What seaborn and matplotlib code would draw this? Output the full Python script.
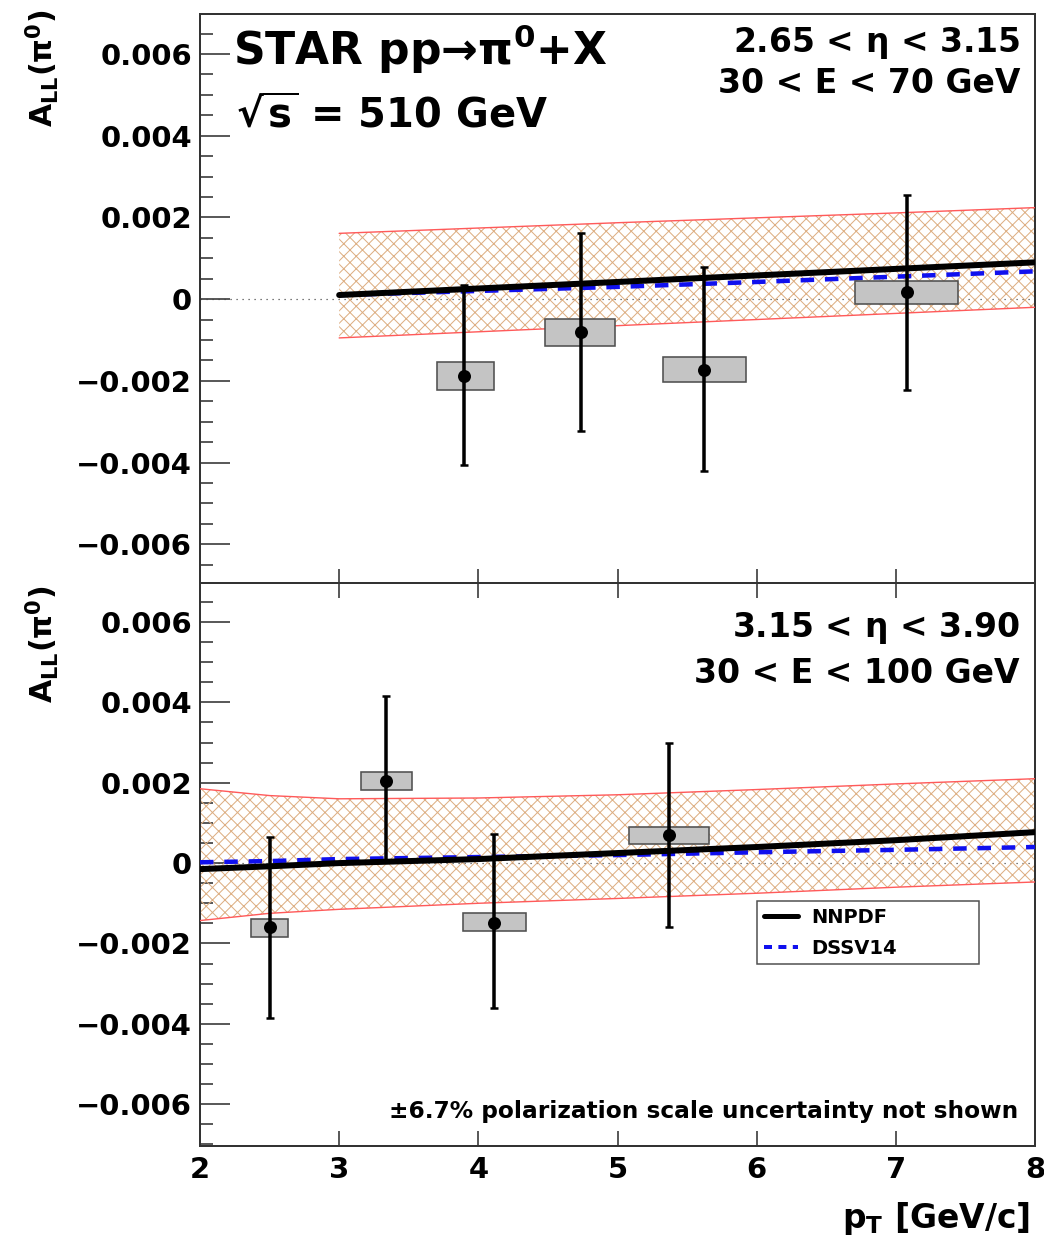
import numpy as np
import pandas as pd
import matplotlib
matplotlib.use("Agg")
import matplotlib.pyplot as plt
import seaborn as sns
from matplotlib.patches import Rectangle
from matplotlib.lines import Line2D
from matplotlib.ticker import MultipleLocator, FuncFormatter

# ---------------- data ----------------
# top panel: 2.65 < eta < 3.15
pt_top = [3.90, 4.735, 5.62, 7.08]
all_top = [-0.00188, -0.00080, -0.00173, 0.00017]
stat_hi_top = [0.00034, 0.00163, 0.00078, 0.00256]
stat_lo_top = [-0.00407, -0.00322, -0.00422, -0.00222]
box_xlo_top = [3.70, 4.48, 5.33, 6.71]
box_xhi_top = [4.11, 4.98, 5.92, 7.45]
box_ylo_top = [-0.00222, -0.00115, -0.00202, -0.00012]
box_yhi_top = [-0.00154, -0.00049, -0.00141, 0.00044]

theory_pt_top = [3, 4, 5, 6, 7, 8]
nnpdf_top = [0.00010, 0.00026, 0.00042, 0.00058, 0.00074, 0.00090]
dssv_top = [0.00010, 0.00020, 0.00030, 0.00042, 0.00055, 0.00068]
band_hi_top = [0.00161, 0.00174, 0.00187, 0.00199, 0.00211, 0.00224]
band_lo_top = [-0.00095, -0.00080, -0.00065, -0.00050, -0.00035, -0.00020]

# bottom panel: 3.15 < eta < 3.90
pt_bot = [2.50, 3.34, 4.11, 5.37]
all_bot = [-0.00160, 0.00205, -0.00148, 0.00070]
stat_hi_bot = [0.00065, 0.00415, 0.00072, 0.00300]
stat_lo_bot = [-0.00385, 0.00005, -0.00360, -0.00160]
box_xlo_bot = [2.37, 3.16, 3.89, 5.08]
box_xhi_bot = [2.63, 3.52, 4.34, 5.66]
box_ylo_bot = [-0.00183, 0.00183, -0.00170, 0.00048]
box_yhi_bot = [-0.00140, 0.00227, -0.00125, 0.00090]

theory_pt_bot = [2, 2.5, 3, 4, 5, 6, 7, 8]
nnpdf_bot = [-0.00015, -0.00008, 0.00000, 0.00010, 0.00025, 0.00040, 0.00057, 0.00077]
dssv_bot = [0.00002, 0.00005, 0.00010, 0.00015, 0.00020, 0.00027, 0.00033, 0.00040]
band_hi_bot = [0.00185, 0.00168, 0.00160, 0.00162, 0.00170, 0.00183, 0.00197, 0.00210]
band_lo_bot = [-0.00143, -0.00125, -0.00115, -0.00100, -0.00088, -0.00075, -0.00060, -0.00047]

x_ticks = [2, 3, 4, 5, 6, 7, 8]
model_names = ["NNPDF", "DSSV14"]

# ---------------- style ----------------
W, H, DPI = 1044, 1243, 75


def P(px):
    return px * 72.0 / DPI


sns.set_theme(style="ticks")
plt.rcParams.update({
    "font.family": ["DejaVu Sans"],
    "font.weight": "bold",
    "mathtext.fontset": "dejavusans",
    "mathtext.default": "bf",
    "hatch.linewidth": P(1.0),
    "axes.unicode_minus": True,
    "text.color": "black",
    "axes.labelcolor": "black",
    "xtick.color": "black",
    "ytick.color": "black",
})

HATCH_COL = "#DDAE82"
EDGE_RED = "#FF5A5A"

fig = plt.figure(figsize=(W / DPI, H / DPI), dpi=DPI)
fig.patch.set_facecolor("white")
ax_top = fig.add_axes([200 / W, 1 - 583 / H, 835 / W, (583 - 14) / H])
ax_bot = fig.add_axes([200 / W, 1 - 1146 / H, 835 / W, (1146 - 583) / H], sharex=ax_top)


def fmt(v, pos):
    if abs(v) < 1e-12:
        return "0"
    s = f"{abs(v):.3f}"
    return ("\u2212" + s) if v < 0 else s


def draw_panel(ax, tpt, nn, ds, bhi, blo, pt, a, shi, slo, bxlo, bxhi, bylo, byhi):
    ax.set_facecolor("white")
    # zero line
    ax.axhline(0, color="#444444", lw=P(1.2), ls=(0, (1, 4)), zorder=1)
    # theory band
    ax.fill_between(tpt, blo, bhi, facecolor="none", edgecolor=HATCH_COL,
                    hatch="xx", linewidth=0, zorder=2)
    ax.plot(tpt, bhi, color=EDGE_RED, lw=P(1.4), zorder=3)
    ax.plot(tpt, blo, color=EDGE_RED, lw=P(1.4), zorder=3)
    # theory curves
    df = pd.DataFrame({"pt": list(tpt) * 2, "all": list(nn) + list(ds),
                       "model": [model_names[0]] * len(tpt) + [model_names[1]] * len(tpt)})
    sns.lineplot(data=df[df.model == "DSSV14"], x="pt", y="all", ax=ax, color="#1010EE",
                 lw=P(4.5), linestyle=(0, (3, 2.4)), estimator=None, legend=False, zorder=4)
    sns.lineplot(data=df[df.model == "NNPDF"], x="pt", y="all", ax=ax, color="black",
                 lw=P(6), estimator=None, legend=False, zorder=5)
    # systematic boxes
    for x0, x1, y0, y1 in zip(bxlo, bxhi, bylo, byhi):
        ax.add_patch(Rectangle((x0, y0), x1 - x0, y1 - y0, facecolor="#C4C4C4",
                               edgecolor="#505050", lw=P(1.6), zorder=6))
    # stat errors
    a_arr = np.array(a)
    yerr = [a_arr - np.array(slo), np.array(shi) - a_arr]
    ax.errorbar(pt, a, yerr=yerr, fmt="none", ecolor="black", elinewidth=P(3.5),
                capsize=P(4), capthick=P(2.5), zorder=7)
    sns.scatterplot(x=pt, y=a, ax=ax, color="black", s=P(13) ** 2, edgecolor="black",
                    linewidth=0, legend=False, zorder=8)
    ax.set_xlabel("")
    ax.set_ylabel("")
    # axes
    ax.set_xlim(2, 8)
    ax.set_xticks(x_ticks)
    ax.yaxis.set_major_locator(MultipleLocator(0.002))
    ax.yaxis.set_minor_locator(MultipleLocator(0.0005))
    ax.yaxis.set_major_formatter(FuncFormatter(fmt))
    ax.tick_params(axis="y", which="major", direction="in", length=P(30), width=P(1.6),
                   left=True, right=False, labelsize=P(29), pad=P(8), colors="#333333",
                   labelcolor="black")
    ax.tick_params(axis="y", which="minor", direction="in", length=P(13), width=P(1.6),
                   left=True, right=False, colors="#333333")
    for s in ax.spines.values():
        s.set_linewidth(P(2))
        s.set_color("#333333")
        s.set_visible(True)


draw_panel(ax_top, theory_pt_top, nnpdf_top, dssv_top, band_hi_top, band_lo_top,
           pt_top, all_top, stat_hi_top, stat_lo_top,
           box_xlo_top, box_xhi_top, box_ylo_top, box_yhi_top)
draw_panel(ax_bot, theory_pt_bot, nnpdf_bot, dssv_bot, band_hi_bot, band_lo_bot,
           pt_bot, all_bot, stat_hi_bot, stat_lo_bot,
           box_xlo_bot, box_xhi_bot, box_ylo_bot, box_yhi_bot)

ax_top.set_ylim(-0.00695, 0.00698)
ax_bot.set_ylim(-0.00704, 0.00697)

ax_top.tick_params(axis="x", which="major", direction="in", length=P(14), width=P(1.6),
                   bottom=True, top=False, labelbottom=False, colors="#333333")
ax_top.tick_params(axis="x", which="minor", bottom=False, top=False)
ax_bot.tick_params(axis="x", which="major", direction="in", length=P(15), width=P(1.6),
                   bottom=True, top=True, labelbottom=True, labelsize=P(29), pad=P(10),
                   colors="#333333", labelcolor="black")
ax_bot.tick_params(axis="x", which="minor", bottom=False, top=False)

# legend
handles = [Line2D([], [], color="black", lw=P(5)),
           Line2D([], [], color="#1010EE", lw=P(4), linestyle=(0, (2, 1.6)))]
leg = ax_bot.legend(handles, model_names, loc="upper left",
                    bbox_to_anchor=((757 - 200) / 835, (1146 - 971) / 563,
                                    (979 - 757) / 835, 70 / 563),
                    mode="expand", fontsize=P(19.5), frameon=True, fancybox=False,
                    borderpad=0.35, labelspacing=0.6, handlelength=1.75,
                    handletextpad=0.7, borderaxespad=0)
leg.get_frame().set_edgecolor("#222222")
leg.get_frame().set_linewidth(P(1.5))
for t in leg.get_texts():
    t.set_fontweight("bold")
    t.set_color("black")


# ---------------- texts ----------------
def fx(px):
    return px / W


def fy(py):
    return 1 - py / H


fig.text(fx(233), fy(65), "STAR pp\u2192" + r"$\pi^{0}$" + "+X", fontsize=P(44),
         fontweight="bold", ha="left", va="baseline")
fig.text(fx(236), fy(127), r"$\sqrt{\mathbf{s}}$ = 510 GeV", fontsize=P(40),
         fontweight="bold", ha="left", va="baseline")
fig.text(fx(1020), fy(52), r"2.65 < $\eta$ < 3.15", fontsize=P(33),
         fontweight="bold", ha="right", va="baseline")
fig.text(fx(1020), fy(93), "30 < E < 70 GeV", fontsize=P(33),
         fontweight="bold", ha="right", va="baseline")
fig.text(fx(1020), fy(637), r"3.15 < $\eta$ < 3.90", fontsize=P(33),
         fontweight="bold", ha="right", va="baseline")
fig.text(fx(1020), fy(683), "30 < E < 100 GeV", fontsize=P(33),
         fontweight="bold", ha="right", va="baseline")
fig.text(fx(1018), fy(1118), "\u00b16.7% polarization scale uncertainty not shown",
         fontsize=P(23.3), fontweight="bold", ha="right", va="baseline")
fig.text(fx(1030), fy(1228), r"p$_{\mathbf{T}}$ [GeV/c]", fontsize=P(33),
         fontweight="bold", ha="right", va="baseline")
for ytop in (10, 586):
    fig.text(fx(42), fy(ytop), r"A$_{\mathbf{LL}}$($\pi^{0}$)", fontsize=P(30),
             fontweight="bold", rotation=90, ha="center", va="top")

fig.savefig("out.png", dpi=DPI, facecolor="white")
